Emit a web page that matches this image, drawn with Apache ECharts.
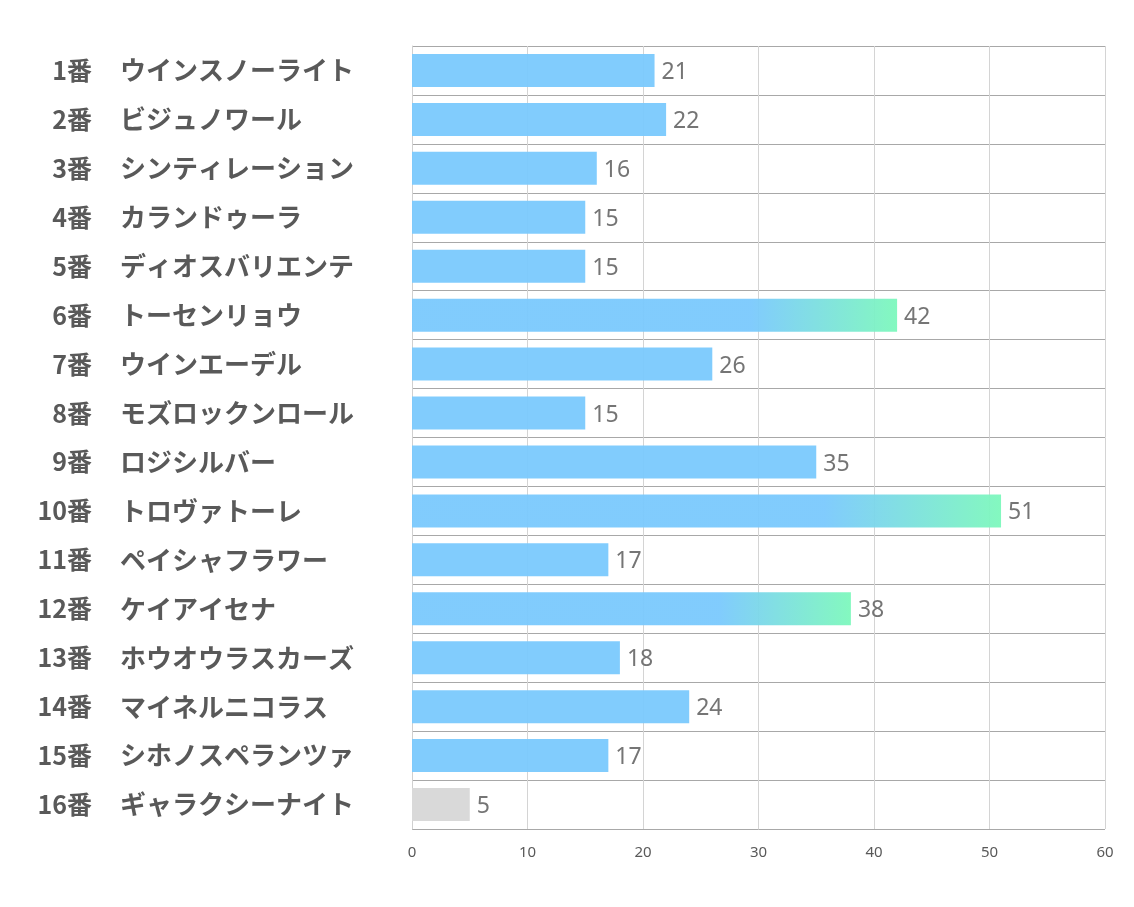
<!DOCTYPE html>
<html><head><meta charset="utf-8">
<script src="https://cdn.jsdelivr.net/npm/echarts@6/dist/echarts.min.js"></script>
<style>html,body{margin:0;padding:0;background:#fff}#c{width:1134px;height:907px}</style>
</head><body><div id="c"></div>
<script>
const numbers = ['1番','2番','3番','4番','5番','6番','7番','8番','9番','10番','11番','12番','13番','14番','15番','16番'];
const names = ['ウインスノーライト','ビジュノワール','シンティレーション','カランドゥーラ','ディオスバリエンテ','トーセンリョウ','ウインエーデル','モズロックンロール','ロジシルバー','トロヴァトーレ','ペイシャフラワー','ケイアイセナ','ホウオウラスカーズ','マイネルニコラス','シホノスペランツァ','ギャラクシーナイト'];
const values = [21,22,16,15,15,42,26,15,35,51,17,38,18,24,17,5];
const highlighted = ['6番','10番','12番'];
const dimmed = ['16番'];
const xTicks = {min:0, max:60, interval:10};

const blue = 'rgba(122,201,253,0.95)';
const green = 'rgba(125,248,188,0.95)';
const gray = '#d9d9d9';

function barColor(i){
  if (dimmed.includes(numbers[i])) return gray;
  if (highlighted.includes(numbers[i])) return new echarts.graphic.LinearGradient(0,0,1,0,[
    {offset:0,color:blue},{offset:0.7,color:blue},{offset:1,color:green}]);
  return blue;
}

const chart = echarts.init(document.getElementById('c'));
chart.setOption({
  animation:false,
  grid:{left:412,right:29,top:46,bottom:78,containLabel:false},
  xAxis:{type:'value',min:xTicks.min,max:xTicks.max,interval:xTicks.interval,
    axisLine:{show:false},axisTick:{show:false},
    axisLabel:{color:'#595959',fontSize:15,fontFamily:'Noto Sans',margin:16},
    splitLine:{show:true,lineStyle:{color:'#d4d4d4',width:1}}},
  yAxis:[
    {type:'category',inverse:true,data:numbers,position:'left',
      axisLine:{show:true,lineStyle:{color:'#d0d0d0'}},axisTick:{show:false},
      splitLine:{show:true,lineStyle:{color:'#a8a8a8',width:1}},
      axisLabel:{margin:320,align:'right',fontSize:25,fontWeight:'bold',color:'#595959',fontFamily:'Noto Sans CJK JP'}},
    {type:'category',inverse:true,data:names,position:'left',offset:0,
      axisLine:{show:false},axisTick:{show:false},splitLine:{show:false},
      axisLabel:{margin:292,align:'left',fontSize:26,fontWeight:'bold',color:'#595959',fontFamily:'Noto Sans CJK JP'}}
  ],
  series:[{type:'bar',barWidth:33,yAxisIndex:0,
    data:values.map((v,i)=>({value:v,itemStyle:{color:barColor(i)}})),
    label:{show:true,position:'right',distance:7,offset:[0,2],color:'#757575',fontSize:23,fontFamily:'Noto Sans'}}]
});
</script></body></html>
